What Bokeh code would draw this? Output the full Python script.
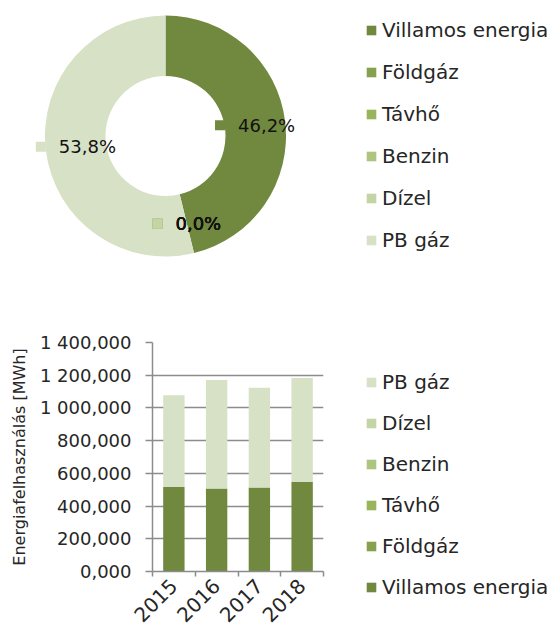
import math
from bokeh.plotting import figure
from bokeh.models import Range1d, FixedTicker, Legend, LegendItem, ColumnDataSource
from bokeh.layouts import column, row
from bokeh.embed import file_html
from bokeh.resources import INLINE
from bokeh.core.properties import value

# ---------------- data ----------------
categories = ["Villamos energia", "Földgáz", "Távhő", "Benzin", "Dízel", "PB gáz"]
colors = ["#71893f", "#85a14e", "#98b55b", "#adc57e", "#c3d4a5", "#d7e1c5"]
pie_share = [46.2, 0.0, 0.0, 0.0, 0.0, 53.8]

years = ["2015", "2016", "2017", "2018"]
villamos = [517000, 507000, 513000, 549000]
foldgaz = [0, 0, 0, 0]
tavho = [0, 0, 0, 0]
benzin = [0, 0, 0, 0]
dizel = [0, 0, 0, 0]
pb_gaz = [561000, 664000, 611000, 634000]

y_ticks = [0, 200000, 400000, 600000, 800000, 1000000, 1200000, 1400000]
y_tick_labels = ["0,000", "200,000", "400,000", "600,000", "800,000",
                 "1 000,000", "1 200,000", "1 400,000"]
y_axis_title = "Energiafelhasználás [MWh]"

# ---------------- style ----------------
FONT = "DejaVu Sans"
TXT = "#262626"
GRID = "#8c8c8c"
W = 553
H1 = 291


def legend_style(spacing):
    return dict(glyph_width=12, glyph_height=12, label_height=12,
                label_standoff=5, spacing=spacing, padding=0, margin=0,
                label_text_font=FONT, label_text_font_size="20px", label_text_color=TXT,
                border_line_color=None, background_fill_alpha=0)


# ---------------- donut ----------------
p1 = figure(width=W, height=H1, x_range=Range1d(0, W), y_range=Range1d(0, H1),
            output_backend="svg", toolbar_location=None,
            x_axis_location=None, y_axis_location=None, min_border=0)
p1.frame_align = False
p1.outline_line_color = None
p1.grid.visible = False

cx, cy = 165, H1 - 135.5
r_in, r_out = 60, 120.5
total = sum(pie_share)
starts, ends, mids = [], [], []
cum = 0.0
for v in pie_share:
    a0 = math.pi / 2 - cum / total * 2 * math.pi
    cum += v
    a1 = math.pi / 2 - cum / total * 2 * math.pi
    mids.append((a0 + a1) / 2)
    # empty slices are not drawn (an empty arc would become a full ring)
    starts.append(a0 if v > 0 else float("nan"))
    ends.append(a1 if v > 0 else float("nan"))

wsrc = ColumnDataSource(dict(name=categories, color=colors, start=starts, end=ends))
wr = p1.annular_wedge(x=cx, y=cy, inner_radius=r_in, outer_radius=r_out,
                      start_angle="start", end_angle="end", direction="clock",
                      fill_color="color", line_color=None, source=wsrc)

# data labels
LFS = 18
cw = {",": 0.318, "%": 0.95}
texts = [f"{v:.1f}".replace(".", ",") + "%" for v in pie_share]
lbl_r = (r_in + r_out) / 2
mx, tx, ly = [], [], []
for m, t in zip(mids, texts):
    x = cx + lbl_r * math.cos(m)
    y = cy + lbl_r * math.sin(m)
    wt = LFS * sum(cw.get(c, 0.636) for c in t)
    left = x - (10 + 13 + wt) / 2
    mx.append(left + 5)
    tx.append(left + 23)
    ly.append(y)
lsrc = ColumnDataSource(dict(mx=mx, tx=tx, y=ly, t=texts, color=colors))
p1.scatter(x="mx", y="y", marker="square", size=10, fill_color="color",
           line_color=None, source=lsrc)
p1.text(x="tx", y="y", text="t", text_font=value(FONT), text_font_size=f"{LFS}px",
        text_baseline="middle", text_align="left", text_color="#111111", source=lsrc)

leg1 = Legend(items=[LegendItem(label=c, renderers=[wr], index=i) for i, c in enumerate(categories)],
              location=(365, H1 - 252), **legend_style(18))
p1.add_layout(leg1)

# ---------------- stacked bars ----------------
H2 = 631 - H1
TOP2 = 342 - H1
FH = 232
W2 = 325
p2 = figure(width=W2, height=H2, x_range=Range1d(0.5, 4.5), y_range=Range1d(0, 1400000),
            output_backend="svg", toolbar_location=None,
            min_border_left=152, min_border_right=W2 - 323,
            min_border_top=TOP2, min_border_bottom=H2 - TOP2 - FH)
p2.frame_align = False
p2.outline_line_color = None

xs = [i + 1 for i in range(len(years))]
bsrc = ColumnDataSource(dict(x=xs, v0=villamos, v1=foldgaz, v2=tavho, v3=benzin,
                             v4=dizel, v5=pb_gaz))
stack_keys = ["v0", "v1", "v2", "v3", "v4", "v5"]
brs = p2.vbar_stack(stack_keys, x="x", width=0.5, color=colors, line_color=None, source=bsrc)

p2.xgrid.visible = False
p2.ygrid.ticker = FixedTicker(ticks=y_ticks)
p2.ygrid.grid_line_color = GRID
p2.ygrid.grid_line_width = 1.5

ya = p2.yaxis[0]
ya.ticker = FixedTicker(ticks=y_ticks)
ya.major_label_overrides = dict(zip(y_ticks, y_tick_labels))
ya.axis_line_color = GRID
ya.axis_line_width = 1.5
ya.major_tick_line_color = GRID
ya.major_tick_line_width = 1.5
ya.major_tick_out = 7
ya.major_tick_in = 0
ya.minor_tick_line_color = None
ya.major_label_standoff = 14
ya.major_label_text_font = FONT
ya.major_label_text_font_size = "18px"
ya.major_label_text_color = TXT
ya.axis_label = y_axis_title
ya.axis_label_standoff = 8
ya.axis_label_text_font = FONT
ya.axis_label_text_font_size = "16px"
ya.axis_label_text_font_style = "normal"
ya.axis_label_text_color = TXT

xa = p2.xaxis[0]
xa.ticker = FixedTicker(ticks=xs, minor_ticks=[x - 0.5 for x in xs] + [xs[-1] + 0.5])
xa.major_label_overrides = dict(zip(xs, years))
xa.axis_line_color = GRID
xa.axis_line_width = 1.5
xa.major_tick_line_color = None
xa.major_tick_out = 0
xa.major_tick_in = 0
xa.minor_tick_line_color = GRID
xa.minor_tick_line_width = 1.5
xa.minor_tick_out = 5
xa.minor_tick_in = 0
xa.major_label_orientation = math.pi / 4
xa.major_label_standoff = 6
xa.major_label_text_font = FONT
xa.major_label_text_font_size = "20px"
xa.major_label_text_color = TXT

# legend of the bar chart, in its own panel to the right
W3 = W - W2
p3 = figure(width=W3, height=H2, x_range=Range1d(0, 1), y_range=Range1d(0, 1),
            output_backend="svg", toolbar_location=None,
            x_axis_location=None, y_axis_location=None, min_border=0)
p3.frame_align = False
p3.outline_line_color = None
p3.grid.visible = False
brs3 = p3.vbar_stack(stack_keys, x="x", width=0.5, color=colors, line_color=None,
                     source=bsrc, visible=False)
leg2 = Legend(items=[LegendItem(label=categories[i], renderers=[brs3[i]]) for i in reversed(range(6))],
              location=(365 - W2, H2 - (598.5 - H1)), **legend_style(17))
p3.add_layout(leg2)

layout = column(p1, row(p2, p3, spacing=0), spacing=0)
open("out.html", "w").write(file_html(layout, INLINE))
